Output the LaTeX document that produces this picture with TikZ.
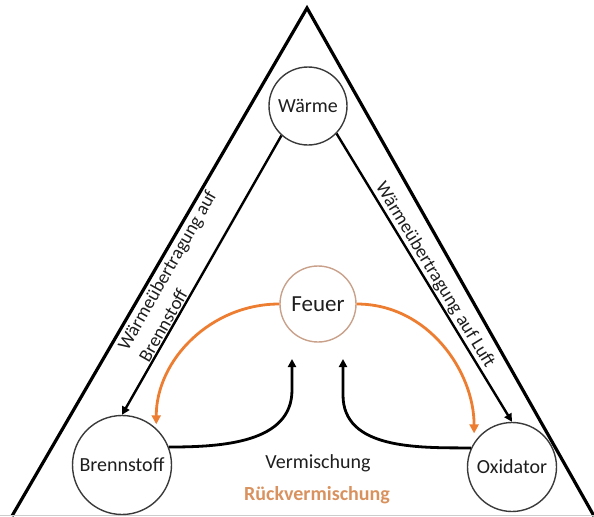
\documentclass[tikz,border=0pt]{standalone}
\usepackage{fontspec}
\setmainfont{Carlito}
\usetikzlibrary{arrows.meta}
\definecolor{feuerrand}{HTML}{C9A08A}
\definecolor{orangepfeil}{HTML}{ED7D31}
\definecolor{rueckfarbe}{HTML}{D9925E}
\definecolor{kreisrand}{HTML}{3A3A3A}
\definecolor{schrift}{HTML}{1E1E1E}

\begin{document}
\begin{tikzpicture}[x=0.5pt, y=0.5pt,
    kreis/.style={circle, draw=kreisrand, line width=0.7pt, inner sep=0pt, text=schrift, font=\fontsize{10}{12}\selectfont},
    pfeil/.style={-{Triangle[length=4pt,width=4pt]}, line width=1.2pt},
    rueckpfeil/.style={-{Triangle[length=4.5pt,width=4.5pt]}, line width=1.4pt, draw=orangepfeil},
    beschriftung/.style={font=\fontsize{9.4}{12}\selectfont, text=schrift, sloped, above, inner sep=0.5pt}]
  \useasboundingbox (0,0) rectangle (594,516);
  % Dreieck
  \draw[line width=1.6pt] (12,0) -- (307,508) -- (594,0);
  \draw[gray!40, line width=0.5pt] (0,1) -- (594,1);

  \node[kreis, minimum size=39pt] (waerme) at (308,410) {Wärme};
  \node[kreis, minimum size=38pt, draw=feuerrand, font=\fontsize{11.5}{13}\selectfont] (feuer) at (318,212) {Feuer};
  \node[kreis, minimum size=49.5pt] (brenn) at (122,51) {Brennstoff};
  \node[kreis, minimum size=44.5pt] (oxid) at (512,49) {Oxidator};

  \coordinate (mixL) at (292,157);
  \coordinate (mixR) at (343,157);

  \draw[pfeil] (waerme.228) -- node[beschriftung, pos=0.54, align=left] {Wärmeübertragung auf\\Brennstoff} (brenn.north);
  \draw[pfeil] (waerme.-44) -- node[beschriftung, pos=0.51] {Wärmeübertragung auf Luft} (oxid.north);

  % Vermischung
  \draw[pfeil, line width=1.4pt] (brenn.21) to[out=0, in=-90] ([yshift=-15.5pt]mixL) -- (mixL);
  \draw[pfeil, line width=1.4pt] (oxid.155) to[out=180, in=-90] ([yshift=-18pt]mixR) -- (mixR);

  % Rueckvermischung
  \draw[rueckpfeil, shorten >=2pt] (feuer.west) to[out=180, in=90] (brenn.47);
  \draw[rueckpfeil, shorten >=4.5pt] (feuer.east) to[out=0, in=90] (oxid.147);

  \node[text=schrift, font=\fontsize{10}{12}\selectfont] (vermisch) at (318,53) {Vermischung};
  \node[text=rueckfarbe, font=\bfseries\fontsize{10}{12}\selectfont] (rueckverm) at (317,21) {Rückvermischung};
\end{tikzpicture}
\end{document}
